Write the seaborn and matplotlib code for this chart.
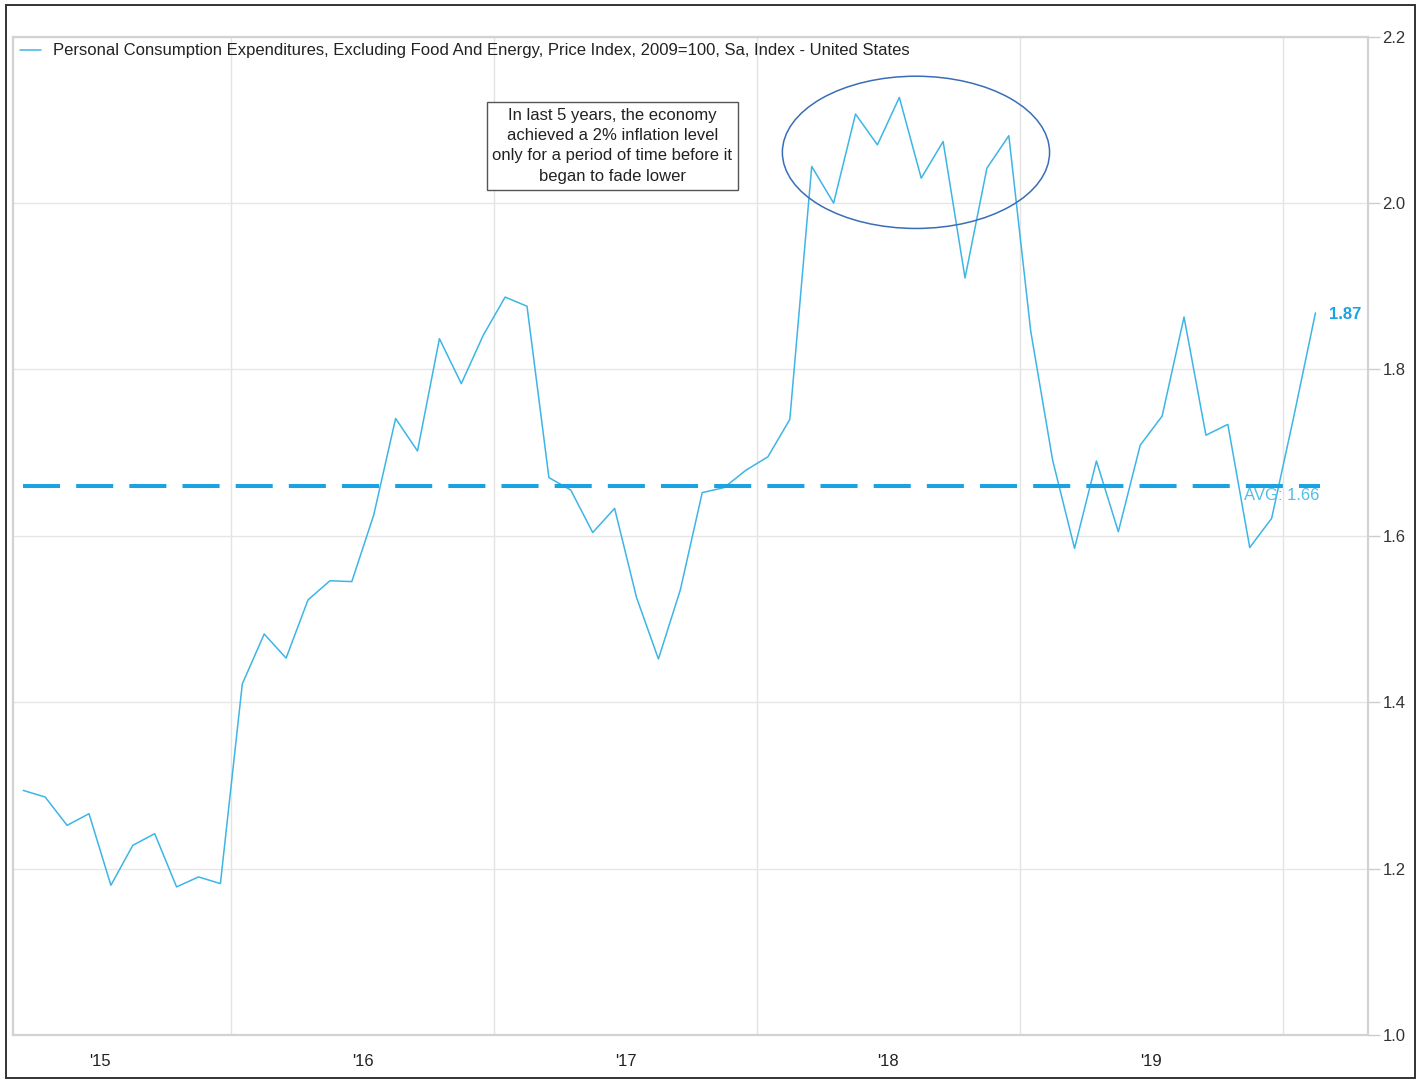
import matplotlib
matplotlib.use("Agg")
import matplotlib.pyplot as plt
from matplotlib.patches import Ellipse, Rectangle
import seaborn as sns
import pandas as pd
import numpy as np

# ---- data (monthly readings) ----
pce_core = [1.294, 1.286, 1.252, 1.266, 1.180, 1.228, 1.242, 1.178, 1.190, 1.182,
            1.422, 1.482, 1.453, 1.523, 1.546, 1.545, 1.625, 1.741, 1.702, 1.837,
            1.783, 1.841, 1.887, 1.876, 1.670, 1.655, 1.604, 1.633, 1.526, 1.452,
            1.535, 1.652, 1.658, 1.679, 1.695, 1.740, 2.044, 2.000, 2.107, 2.070,
            2.127, 2.030, 2.074, 1.910, 2.042, 2.081, 1.846, 1.691, 1.585, 1.690,
            1.605, 1.709, 1.744, 1.863, 1.721, 1.734, 1.586, 1.621, 1.742, 1.868]
year_labels = ["'15", "'16", "'17", "'18", "'19"]
average_value = 1.66
last_value_label = "1.87"
y_ticks = [1.0, 1.2, 1.4, 1.6, 1.8, 2.0, 2.2]
series_name = ("Personal Consumption Expenditures, Excluding Food And Energy, "
               "Price Index, 2009=100, Sa, Index - United States")
note_text = ("In last 5 years, the economy\nachieved a 2% inflation level\n"
             "only for a period of time before it\nbegan to fade lower")

df = pd.DataFrame({"month": np.arange(len(pce_core)), "value": pce_core})

sns.set_style("white")
plt.rcParams['font.family'] = ['Liberation Sans', 'DejaVu Sans']

W, H = 1424, 1081
fig = plt.figure(figsize=(W / 100, H / 100), dpi=100)
ax = fig.add_axes([13 / W, 1 - 1035 / H, (1368 - 13) / W, (1035 - 36.7) / H])

line_color = "#3db5e6"
avg_color = "#1aa3e0"
FS = 12

sns.lineplot(data=df, x="month", y="value", ax=ax, color=line_color,
             linewidth=1.1, label=series_name)

# average dashed line
ax.hlines(average_value, 0.0, 59.2, colors=avg_color, linewidth=2.9,
          linestyles=(0, (9.2, 4.0)), zorder=3)
ax.text(59.2, average_value - 0.002, f"AVG: {average_value:.2f}", color="#52bde9",
        fontsize=FS, ha="right", va="top")
ax.text(len(pce_core) - 1 + 0.6, pce_core[-1] - 0.002, last_value_label,
        color=avg_color, fontsize=FS, fontweight="bold", ha="left", va="center")

# annotation box
ax.text(26.9, 2.069, note_text, ha="center", va="center", fontsize=FS,
        color="#222222", linespacing=1.45,
        bbox=dict(boxstyle="square,pad=0.35", fc="white", ec="#555555", lw=1.0))

# ellipse
ax.add_patch(Ellipse((40.76, 2.061), 12.2, 0.183, fill=False,
                     edgecolor="#3a6db8", linewidth=1.1, zorder=4))

# axes limits / ticks
ax.set_xlim(-0.47, 61.4)
ax.set_ylim(1.0, 2.2)
year_bounds = [9.5, 21.5, 33.5, 45.5, 57.5]
year_centers = [3.5, 15.5, 27.5, 39.5, 51.5]
ax.set_xticks(year_centers)
ax.set_xticklabels(year_labels)
ax.set_xticks(year_bounds, minor=True)
ax.tick_params(axis="x", which="major", length=0, pad=14, labelsize=FS,
               labelcolor="#222222")
ax.tick_params(axis="x", which="minor", length=7, color="#e3e3e3", width=1)
ax.grid(True, axis="x", which="minor", color="#e3e3e3", linewidth=1)

ax.yaxis.tick_right()
ax.set_yticks(y_ticks)
ax.set_yticklabels([f"{v:.1f}" for v in y_ticks])
ax.tick_params(axis="y", length=8.5, color="#cccccc", width=1, pad=2,
               labelsize=FS, labelcolor="#333333")
ax.grid(True, axis="y", color="#e6e6e6", linewidth=1)
ax.set_xlabel("")
ax.set_ylabel("")

for sp in ax.spines.values():
    sp.set_color("#d2d2d2")
    sp.set_linewidth(1.6)

leg = ax.legend(loc="upper left", bbox_to_anchor=(0.0, 1.0), frameon=False,
                fontsize=FS, handlelength=1.3, handletextpad=0.7,
                borderaxespad=0.1, borderpad=0.3)
for t in leg.get_texts():
    t.set_color("#222222")

# outer border
fig.add_artist(Rectangle((6 / W, 1 - 1078 / H), (1415 - 6) / W, (1078 - 5) / H,
                         transform=fig.transFigure, fill=False,
                         edgecolor="#333333", linewidth=1.4))

fig.savefig("out.png", dpi=100)
